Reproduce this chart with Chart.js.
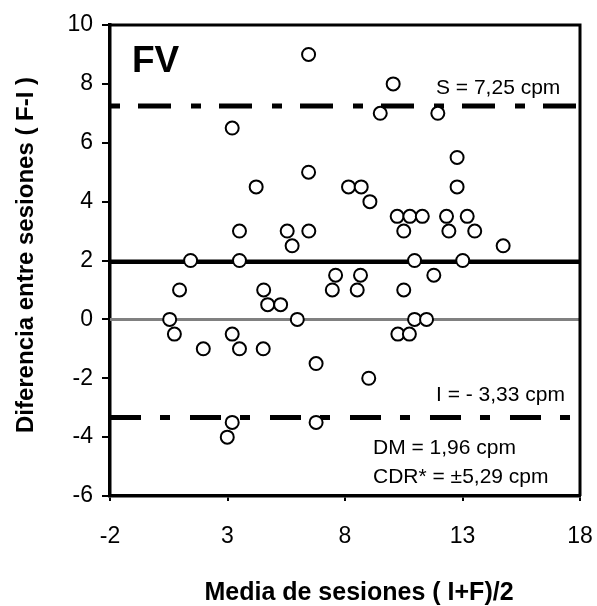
<!DOCTYPE html>
<html>
<head>
<meta charset="utf-8">
<script src="https://cdn.jsdelivr.net/npm/chart.js@4.4.1/dist/chart.umd.min.js"></script>
<style>
    html, body { margin: 0; padding: 0; background: #fff; }
    #wrap { width: 597px; height: 606px; }
</style>
</head>
<body>
<div id="wrap"><canvas id="blandAltman" width="597" height="606"></canvas></div>
<script>
// Media de sesiones (I+F)/2 para cada sujeto
let mediaSesiones = [6.45, 3.2, 10.05, 9.5, 11.95, 6.45, 12.77, 4.22, 8.15, 8.69,
    12.77, 9.06, 3.51, 5.54, 6.46, 5.75, 10.22, 10.76, 11.29, 10.5,
    12.32, 13.2, 12.42, 13.52, 14.73, 1.43, 3.51, 10.96, 13.01, 7.6,
    8.66, 11.78, 0.96, 4.54, 7.46, 8.52, 10.5, 4.71, 5.26, 0.54,
    5.97, 10.96, 11.47, 0.74, 3.2, 10.25, 10.74, 1.97, 3.51, 4.52,
    6.77, 9.01, 3.2, 2.99, 6.77];
// Diferencia entre sesiones (F-I)
let diferencia = [9.0, 6.5, 8.0, 7.0, 7.0, 5.0, 5.5, 4.5, 4.5, 4.5,
    4.5, 4.0, 3.0, 3.0, 3.0, 2.5, 3.5, 3.5, 3.5, 3.0,
    3.5, 3.5, 3.0, 3.0, 2.5, 2.0, 2.0, 2.0, 2.0, 1.5,
    1.5, 1.5, 1.0, 1.0, 1.0, 1.0, 1.0, 0.5, 0.5, 0,
    0, 0, 0, -0.5, -0.5, -0.5, -0.5, -1.0, -1.0, -1.0,
    -1.5, -2.0, -3.5, -4.0, -3.5];

let limiteS = 7.25;
let limiteI = -3.33;
let diferenciaMedia = 1.96;
let xRango = [-2, 18];
let yRango = [-6, 10];

let fuente = '"Liberation Sans", Arial, sans-serif';

let puntos = mediaSesiones.map((x, i) => ({ x: x, y: diferencia[i] }));

function lineaH(valor) {
    return [{ x: xRango[0], y: valor }, { x: xRango[1], y: valor }];
}

// Textos y marco del grafico
const textosPlugin = {
    id: 'textos',
    afterDraw(chart) {
        const ctx = chart.ctx;
        const a = chart.chartArea;
        ctx.save();
        ctx.strokeStyle = '#000';
        ctx.lineWidth = 3;
        ctx.beginPath();
        ctx.moveTo(a.left, a.top);
        ctx.lineTo(a.right, a.top);
        ctx.lineTo(a.right, a.bottom);
        ctx.stroke();

        ctx.fillStyle = '#000';
        ctx.textBaseline = 'middle';
        ctx.textAlign = 'left';
        ctx.font = 'bold 37px ' + fuente;
        ctx.fillText('FV', 132, 62);

        ctx.font = '21px ' + fuente;
        ctx.fillText('S = 7,25 cpm', 436, 88);
        ctx.fillText('I = - 3,33 cpm', 436, 395);
        ctx.fillText('DM = 1,96 cpm', 373, 448);
        ctx.fillText('CDR* = \u00b15,29 cpm', 373, 477);

        // titulos de ejes
        ctx.font = 'bold 25px ' + fuente;
        ctx.textAlign = 'center';
        ctx.fillText('Media de sesiones ( I+F)/2', 359, 593);
        ctx.font = 'bold 24px ' + fuente;
        ctx.translate(26, 255);
        ctx.rotate(-Math.PI / 2);
        ctx.fillText('Diferencia entre sesiones ( F-I )', 0, 0);
        ctx.restore();
    }
};

let ctx = document.getElementById('blandAltman').getContext('2d');

let myChart = new Chart(ctx, {
    type: 'scatter',
    data: {
        datasets: [{
            label: 'Sujetos',
            data: puntos,
            order: 0,
            pointStyle: 'circle',
            pointRadius: 6.5,
            pointBorderWidth: 2,
            borderColor: '#000',
            backgroundColor: '#fff'
        }, {
            type: 'line',
            label: 'DM',
            data: lineaH(diferenciaMedia),
            order: 1,
            borderColor: '#000',
            borderWidth: 4.5,
            pointRadius: 0
        }, {
            type: 'line',
            label: 'S',
            data: lineaH(limiteS),
            order: 2,
            borderColor: '#000',
            borderWidth: 5,
            borderDash: [10, 18, 33, 20],
            borderCapStyle: 'butt',
            pointRadius: 0
        }, {
            type: 'line',
            label: 'I',
            data: lineaH(limiteI),
            order: 3,
            borderColor: '#000',
            borderWidth: 5,
            borderDash: [31, 19, 10, 20],
            borderCapStyle: 'butt',
            pointRadius: 0
        }, {
            type: 'line',
            label: 'cero',
            data: lineaH(0),
            order: 4,
            borderColor: '#808080',
            borderWidth: 3,
            pointRadius: 0
        }]
    },
    options: {
        responsive: false,
        animation: false,
        layout: { padding: { left: 0, top: 25, right: 17, bottom: 0 } },
        plugins: {
            legend: { display: false },
            tooltip: { enabled: false }
        },
        scales: {
            x: {
                type: 'linear',
                min: xRango[0],
                max: xRango[1],
                afterFit: function (scale) {
                    scale.height = 110;
                    scale.paddingLeft = 0;
                    scale.paddingRight = 0;
                },
                ticks: {
                    stepSize: 5,
                    color: '#000',
                    padding: 22,
                    font: { family: fuente, size: 23 }
                },
                grid: {
                    drawOnChartArea: false,
                    drawTicks: true,
                    tickLength: 5,
                    color: '#000',
                    lineWidth: 2
                },
                border: { display: true, color: '#000', width: 3.5 }
            },
            y: {
                type: 'linear',
                min: yRango[0],
                max: yRango[1],
                afterFit: function (scale) {
                    scale.width = 110;
                    scale.paddingTop = 0;
                    scale.paddingBottom = 0;
                },
                ticks: {
                    stepSize: 2,
                    color: '#000',
                    padding: 9,
                    font: { family: fuente, size: 23 }
                },
                grid: {
                    drawOnChartArea: false,
                    drawTicks: true,
                    tickLength: 8,
                    color: '#000',
                    lineWidth: 2
                },
                border: { display: true, color: '#000', width: 3.5 }
            }
        }
    },
    plugins: [textosPlugin]
});
</script>
</body>
</html>
